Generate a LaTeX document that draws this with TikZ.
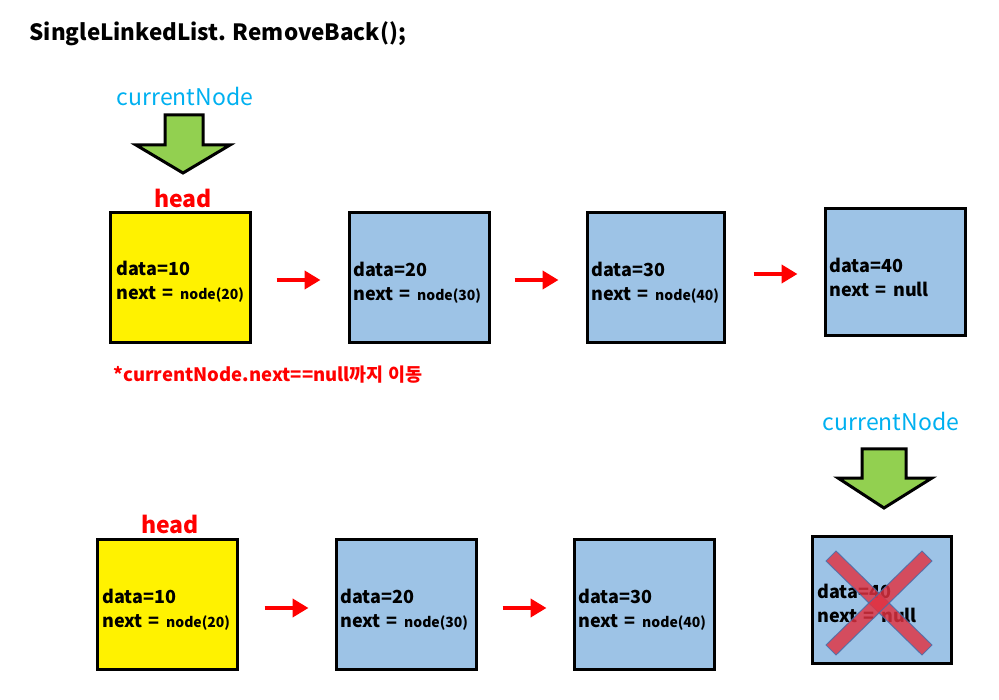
\documentclass[tikz,border=0pt]{standalone}
\usepackage{fontspec}
\setmainfont{Noto Sans CJK KR}
\usetikzlibrary{arrows.meta}
\definecolor{cnblue}{RGB}{0,176,240}
\definecolor{boxblue}{RGB}{157,195,230}
\definecolor{grn}{RGB}{146,208,80}
\definecolor{xred}{RGB}{225,50,65}
\definecolor{xedge}{RGB}{70,110,170}
\begin{document}
\begin{tikzpicture}[x=1pt,y=-1pt,
  lnode/.style={draw=black,line width=3pt,minimum width=140pt,minimum height=130pt,inner sep=0pt},
  ybox/.style={lnode,fill=yellow},
  bbox/.style={lnode,fill=boxblue},
  dtext/.style={anchor=west,align=left,font=\bfseries\fontsize{18}{24}\selectfont,inner sep=0pt},
  link/.style={red,line width=4.5pt,-{Triangle[length=16pt,width=18pt]}},
  headlbl/.style={red,font=\bfseries\fontsize{23}{26}\selectfont},
  cnlbl/.style={cnblue,font=\fontsize{23}{26}\selectfont},
  greenarrow/.style={fill=grn,draw=black,line width=3pt,line join=miter}
]
\useasboundingbox (0,0) rectangle (999,700);
\newcommand{\sm}{\fontsize{14}{24}\selectfont}
\newcommand{\nx}{next\hspace{0.35em}=\hspace{0.35em}}
% title
\node[anchor=west,font=\bfseries\fontsize{22.4}{26}\selectfont] (title) at (26,34) {SingleLinkedList. RemoveBack();};

% top row
\node[ybox] (a1) at (180,278) {};
\node[bbox] (a2) at (419,278) {};
\node[bbox,minimum width=137pt] (a3) at (655.5,278) {};
\node[bbox,minimum height=127pt] (a4) at (895,272.5) {};
\node[dtext] (t1) at (116,282) {data=10\\\nx{\sm node(20)}};
\node[dtext] (t2) at (353,283) {data=20\\\nx{\sm node(30)}};
\node[dtext] (t3) at (591,283) {data=30\\\nx{\sm node(40)}};
\node[dtext] (t4) at (829,277) {data=40\\\nx null};
\draw[link] ([xshift=25pt,yshift=-2pt]a1.east) -- ([xshift=-27pt,yshift=-2pt]a2.west);
\draw[link] ([xshift=24pt,yshift=-2pt]a2.east) -- ([xshift=-27pt,yshift=-2pt]a3.west);
\draw[link] ([xshift=28pt,yshift=4pt]a3.east) -- ([xshift=-26pt,yshift=-1.5pt]a4.west);
\node[headlbl] (h1) at (183,198) {head};
\node[cnlbl] (c1) at (185,96) {currentNode};
\draw[greenarrow] (165,115) -- (203,115) -- (203,145) -- (230,145) -- (183,173) -- (136,145) -- (165,145) -- cycle;
\node[anchor=west,red,font=\bfseries\fontsize{18.5}{22}\selectfont] (note) at (110,375) {*currentNode.next==null까지 이동};

% bottom row
\node[ybox] (b1) at (167,604.5) {};
\node[bbox] (b2) at (406,604.5) {};
\node[bbox] (b3) at (644,604.5) {};
\node[bbox,minimum width=139pt,minimum height=127pt] (b4) at (881.5,599.5) {};
\node[dtext] (u1) at (102,610) {data=10\\\nx{\sm node(20)}};
\node[dtext] (u2) at (340,610) {data=20\\\nx{\sm node(30)}};
\node[dtext] (u3) at (578,610) {data=30\\\nx{\sm node(40)}};
\node[dtext] (u4) at (817,603) {data=40\\\nx null};
\draw[link] ([xshift=26pt,yshift=-3.5pt]b1.east) -- ([xshift=-26pt,yshift=-3.5pt]b2.west);
\draw[link] ([xshift=25pt,yshift=-3.5pt]b2.east) -- ([xshift=-26pt,yshift=-3.5pt]b3.west);
\node[headlbl] (h2) at (170,524) {head};
\node[cnlbl] (c2) at (891,421) {currentNode};
\draw[greenarrow] (862,449) -- (906,449) -- (906,478) -- (932,478) -- (884,508) -- (838,478) -- (862,478) -- cycle;
% red X
\begin{scope}[opacity=0.82]
\draw[xedge,line width=1pt,fill=xred] (826,561) -- (836,551) -- (932,645) -- (922,655) -- cycle;
\draw[xedge,line width=1pt,fill=xred] (922,551) -- (932,561) -- (836,655) -- (826,645) -- cycle;
\end{scope}
\end{tikzpicture}
\end{document}
